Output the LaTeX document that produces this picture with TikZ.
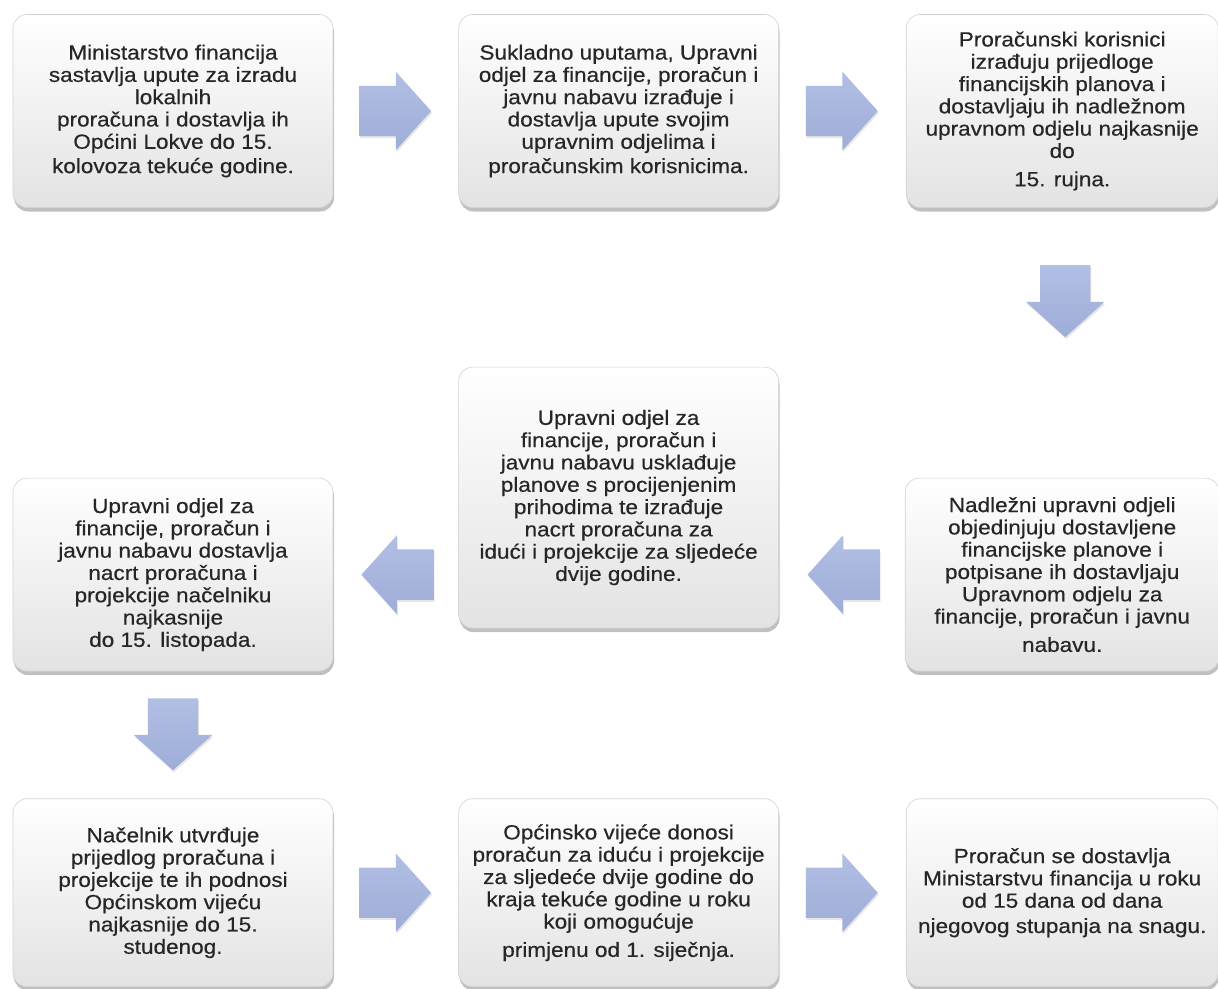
\documentclass[tikz,border=0pt]{standalone}
\usepackage{fontspec}
\setmainfont{Liberation Sans}[FakeStretch=1.1,FakeBold=0.4]
\usepackage{tikz}
\usetikzlibrary{positioning,calc,shapes.arrows,shadows}

\definecolor{arrowtop}{RGB}{178,191,228}
\definecolor{arrowbot}{RGB}{158,173,216}

\begin{document}
\begin{tikzpicture}[x=1pt,y=-1pt,
	korak/.style={rectangle, rounded corners=14pt, draw=gray!35, line width=0.6pt,
	  top color=white, bottom color=gray!22, minimum width=320pt, minimum height=193pt,
	  align=center, inner sep=0pt, text=black!85, font=\fontsize{20.5}{22.3}\selectfont,
	  drop shadow={shadow xshift=1pt, shadow yshift=-4pt, opacity=.45, fill=black!55}},
	strelica/.style={single arrow, minimum height=72pt, minimum width=78pt,
	  single arrow head extend=14pt, single arrow tip angle=96, inner xsep=0pt, inner ysep=25pt,
	  draw=none, top color=arrowtop, bottom color=arrowbot,
	  drop shadow={shadow xshift=1pt, shadow yshift=-2pt, opacity=.2, fill=black!50}},
	desno/.style={strelica, xshift=-12pt},
	lijevo/.style={strelica, shape border rotate=180, xshift=13pt},
	dolje/.style={strelica, shape border rotate=270, inner xsep=25pt, inner ysep=0pt, yshift=12pt}]
	\useasboundingbox (0,0) rectangle (1218,988);
	\node[korak] (ministarstvo) at (173,111) {Ministarstvo financija\\sastavlja upute za izradu\\lokalnih\\proračuna i dostavlja ih\\Općini Lokve do 15.\\[2pt]kolovoza tekuće godine.};
	\node[korak, right=125pt of ministarstvo] (upute) {Sukladno uputama, Upravni\\odjel za financije, proračun i\\javnu nabavu izrađuje i\\dostavlja upute svojim\\upravnim odjelima i\\[2pt]proračunskim korisnicima.};
	\node[korak, right=127pt of upute, minimum width=312pt] (korisnici) {Proračunski korisnici\\izrađuju prijedloge\\financijskih planova i\\dostavljaju ih nadležnom\\upravnom odjelu najkasnije\\do\\[6pt]15. rujna.};
	\node[korak, below=270pt of korisnici, minimum width=314pt] (odjeli) {Nadležni upravni odjeli\\objedinjuju dostavljene\\financijske planove i\\potpisane ih dostavljaju\\Upravnom odjelu za\\financije, proračun i javnu\\[6pt]nabavu.};
	\node[korak, below=159pt of upute, minimum height=261pt] (uskladjivanje) {Upravni odjel za\\financije, proračun i\\javnu nabavu usklađuje\\planove s procijenjenim\\prihodima te izrađuje\\nacrt proračuna za\\idući i projekcije za sljedeće\\dvije godine.};
	\node[korak, below=270pt of ministarstvo] (nacrt) {Upravni odjel za\\financije, proračun i\\javnu nabavu dostavlja\\nacrt proračuna i\\projekcije načelniku\\najkasnije\\do 15. listopada.};
	\node[korak, below=127pt of nacrt, minimum height=188pt] (nacelnik) {Načelnik utvrđuje\\prijedlog proračuna i\\projekcije te ih podnosi\\Općinskom vijeću\\najkasnije do 15.\\studenog.};
	\node[korak, right=125pt of nacelnik, minimum height=188pt] (vijece) {Općinsko vijeće donosi\\proračun za iduću i projekcije\\za sljedeće dvije godine do\\kraja tekuće godine u roku\\koji omogućuje\\[6pt]primjenu od 1. siječnja.};
	\node[korak, right=127pt of vijece, minimum width=312pt, minimum height=188pt] (dostava) {Proračun se dostavlja\\Ministarstvu financija u roku\\od 15 dana od dana\\[3pt]njegovog stupanja na snagu.};
	\node[desno] (s1) at ($(ministarstvo.east)!0.5!(upute.west)$) {};
	\node[desno] (s2) at ($(upute.east)!0.5!(korisnici.west)$) {};
	\node[dolje] (s3) at ($(korisnici.south)+(3,94)$) {};
	\node[lijevo] (s4) at ($(uskladjivanje.east |- odjeli.west)!0.5!(odjeli.west)$) {};
	\node[lijevo] (s5) at ($(nacrt.east)!0.5!(uskladjivanje.west |- nacrt.east)$) {};
	\node[dolje] (s6) at ($(nacrt.south)!0.5!(nacelnik.north)$) {};
	\node[desno] (s7) at ($(nacelnik.east)!0.5!(vijece.west)$) {};
	\node[desno] (s8) at ($(vijece.east)!0.5!(dostava.west)$) {};
\end{tikzpicture}
\end{document}
